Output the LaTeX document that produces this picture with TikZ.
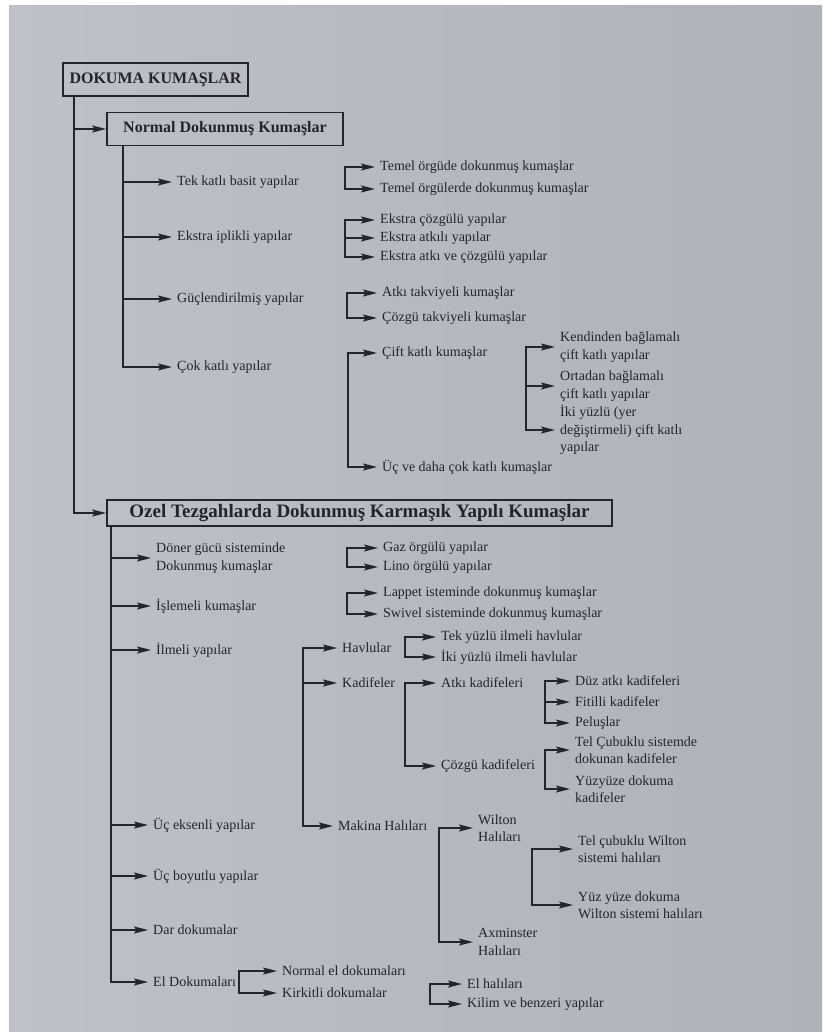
\documentclass[tikz,border=0pt]{standalone}
\usepackage{fontspec}
\setmainfont{Liberation Serif}
\usetikzlibrary{arrows.meta}
\definecolor{bgL}{RGB}{190,193,199}
\definecolor{bgR}{RGB}{174,178,185}
\definecolor{ink}{RGB}{36,36,42}
\begin{document}
\begin{tikzpicture}[x=1pt,y=-1pt,
  lbl/.style={anchor=west,inner sep=0pt,text=ink,font=\fontsize{14}{17.5}\selectfont,align=left},
  hbox/.style={draw=ink,line width=1.7pt,inner sep=0pt,text=ink},
  ln/.style={draw=ink,line width=1.6pt},
  tip/.tip={Stealth[length=14pt,width=7pt,inset=2.5pt]},
  arr/.style={ln,-tip,shorten >=5pt},
  arrbox/.style={ln,-tip},
  barr/.style={ln,tip-tip,shorten <=5pt,shorten >=5pt},
]
\fill[white] (0,0) rectangle (822,1032);
\shade[left color=bgL,right color=bgR] (9,6) rectangle (822,1032);
\useasboundingbox (0,0) rectangle (822,1032);

% header boxes
\node[hbox,minimum width=185pt,minimum height=33pt,font=\fontsize{16}{19}\selectfont\bfseries] (dok) at (155.5,79.5) {DOKUMA KUMAŞLAR};
\node[hbox,minimum width=236pt,minimum height=33pt,font=\fontsize{16}{19}\selectfont\bfseries] (nor) at (225,129) {Normal Dokunmuş Kumaşlar};
\node[hbox,minimum width=505pt,minimum height=26pt,font=\fontsize{19}{22}\selectfont\bfseries] (oz) at (359.5,513) {Ozel Tezgahlarda Dokunmuş Karmaşık Yapılı Kumaşlar};

% trunk coordinates
\coordinate (t0) at (74,0);
\coordinate (t1) at (123,0);
\coordinate (t2) at (111,0);

% Normal section
\node[lbl] (n1) at (177,182) {Tek katlı basit yapılar};
\node[lbl] (n2) at (177,237) {Ekstra iplikli yapılar};
\node[lbl] (n3) at (177,299) {Güçlendirilmiş yapılar};
\node[lbl] (n4) at (177,367) {Çok katlı yapılar};

\node[lbl] (n11) at (380,167) {Temel örgüde dokunmuş kumaşlar};
\node[lbl] (n12) at (380,189) {Temel örgülerde dokunmuş kumaşlar};
\node[lbl] (n21) at (380,220) {Ekstra çözgülü yapılar};
\node[lbl] (n22) at (380,238) {Ekstra atkılı yapılar};
\node[lbl] (n23) at (380,257) {Ekstra atkı ve çözgülü yapılar};
\node[lbl] (n31) at (382,293) {Atkı takviyeli kumaşlar};
\node[lbl] (n32) at (382,318) {Çözgü takviyeli kumaşlar};
\node[lbl] (n41) at (382,353) {Çift katlı kumaşlar};
\node[lbl] (n42) at (382,467) {Üç ve daha çok katlı kumaşlar};
\node[lbl] (n411) at (560,347) {Kendinden bağlamalı\\çift katlı yapılar};
\node[lbl] (n412) at (560,386) {Ortadan bağlamalı\\çift katlı yapılar};
\node[lbl] (n413) at (560,430) {İki yüzlü (yer\\değiştirmeli) çift katlı\\yapılar};

\coordinate (bN1) at (345,0);
\coordinate (bN2) at (345,0);
\coordinate (bN3) at (347,0);
\coordinate (bN4) at (348,0);
\coordinate (bN41) at (526,0);

% Ozel section
\node[lbl] (o1) at (156,558) {Döner gücü sisteminde\\Dokunmuş kumaşlar};
\node[lbl] (o2) at (156,606) {İşlemeli kumaşlar};
\node[lbl] (o3) at (156,650) {İlmeli yapılar};
\node[lbl] (o4) at (153,825) {Üç eksenli yapılar};
\node[lbl] (o5) at (153,876) {Üç boyutlu yapılar};
\node[lbl] (o6) at (153,930) {Dar dokumalar};
\node[lbl] (o7) at (153,982) {El Dokumaları};

\node[lbl] (o11) at (383,548) {Gaz örgülü yapılar};
\node[lbl] (o12) at (383,567) {Lino örgülü yapılar};
\node[lbl] (o21) at (383,593) {Lappet isteminde dokunmuş kumaşlar};
\node[lbl] (o22) at (383,614) {Swivel sisteminde dokunmuş kumaşlar};
\node[lbl] (o31) at (342,648) {Havlular};
\node[lbl] (o32) at (342,683) {Kadifeler};
\node[lbl] (o33) at (338,826) {Makina Halıları};
\node[lbl] (o311) at (441,637) {Tek yüzlü ilmeli havlular};
\node[lbl] (o312) at (441,657) {İki yüzlü ilmeli havlular};
\node[lbl] (o321) at (441,683) {Atkı kadifeleri};
\node[lbl] (o322) at (441,766) {Çözgü kadifeleri};
\node[lbl] (o3211) at (575,681) {Düz atkı kadifeleri};
\node[lbl] (o3212) at (575,702) {Fitilli kadifeler};
\node[lbl] (o3213) at (575,723) {Peluşlar};
\node[lbl] (o3221) at (575,750) {Tel Çubuklu sistemde\\dokunan kadifeler};
\node[lbl] (o3222) at (575,789) {Yüzyüze dokuma\\kadifeler};
\node[lbl] (o331) at (478,828) {Wilton\\Halıları};
\node[lbl] (o332) at (478,942) {Axminster\\Halıları};
\node[lbl] (o3311) at (578,849) {Tel çubuklu Wilton\\sistemi halıları};
\node[lbl] (o3312) at (578,905) {Yüz yüze dokuma\\Wilton sistemi halıları};
\node[lbl] (o71) at (282,971) {Normal el dokumaları};
\node[lbl] (o72) at (282,993) {Kirkitli dokumalar};
\node[lbl] (o721) at (467,984) {El halıları};
\node[lbl] (o722) at (467,1004) {Kilim ve benzeri yapılar};

\coordinate (bO1) at (347,0);
\coordinate (bO2) at (347,0);
\coordinate (bO3) at (303,0);
\coordinate (bO31) at (405,0);
\coordinate (bO32) at (405,0);
\coordinate (bO321) at (545,0);
\coordinate (bO322) at (545,0);
\coordinate (bO33) at (439,0);
\coordinate (bO331) at (532,0);
\coordinate (bO7) at (239,0);
\coordinate (bO72) at (430,0);

% main trunk
\draw[arrbox] (dok.south -| t0) -- (oz.west -| t0) -- (oz.west);
\draw[arrbox] (nor.west -| t0) -- (nor.west);

% Normal trunk
\draw[arr] (nor.south -| t1) -- (n4.west -| t1) -- (n4.west);
\foreach \n in {n1,n2,n3} \draw[arr] (\n.west -| t1) -- (\n.west);

% Normal brackets
\draw[barr] (n11.west) -- (n11.west -| bN1) -- (n12.west -| bN1) -- (n12.west);
\draw[barr] (n21.west) -- (n21.west -| bN2) -- (n23.west -| bN2) -- (n23.west);
\draw[arr] (n22.west -| bN2) -- (n22.west);
\draw[barr] (n31.west) -- (n31.west -| bN3) -- (n32.west -| bN3) -- (n32.west);
\draw[barr] (n41.west) -- (n41.west -| bN4) -- (n42.west -| bN4) -- (n42.west);
\draw[barr] (n411.west) -- (n411.west -| bN41) -- (n413.west -| bN41) -- (n413.west);
\draw[arr] (n412.west -| bN41) -- (n412.west);

% Ozel trunk
\draw[arr] (oz.south -| t2) -- (o7.west -| t2) -- (o7.west);
\foreach \n in {o1,o2,o3,o4,o5,o6} \draw[arr] (\n.west -| t2) -- (\n.west);

% Ozel brackets
\draw[barr] (o11.west) -- (o11.west -| bO1) -- (o12.west -| bO1) -- (o12.west);
\draw[barr] (o21.west) -- (o21.west -| bO2) -- (o22.west -| bO2) -- (o22.west);
\draw[barr] (o31.west) -- (o31.west -| bO3) -- (o33.west -| bO3) -- (o33.west);
\draw[arr] (o32.west -| bO3) -- (o32.west);
\draw[barr] (o311.west) -- (o311.west -| bO31) -- (o312.west -| bO31) -- (o312.west);
\draw[barr] (o321.west) -- (o321.west -| bO32) -- (o322.west -| bO32) -- (o322.west);
\draw[barr] (o3211.west) -- (o3211.west -| bO321) -- (o3213.west -| bO321) -- (o3213.west);
\draw[arr] (o3212.west -| bO321) -- (o3212.west);
\draw[barr] (o3221.west) -- (o3221.west -| bO322) -- (o3222.west -| bO322) -- (o3222.west);
\draw[barr] (o331.west) -- (o331.west -| bO33) -- (o332.west -| bO33) -- (o332.west);
\draw[barr] (o3311.west) -- (o3311.west -| bO331) -- (o3312.west -| bO331) -- (o3312.west);
\draw[barr] (o71.west) -- (o71.west -| bO7) -- (o72.west -| bO7) -- (o72.west);
\draw[barr] (o721.west) -- (o721.west -| bO72) -- (o722.west -| bO72) -- (o722.west);
\end{tikzpicture}
\end{document}
